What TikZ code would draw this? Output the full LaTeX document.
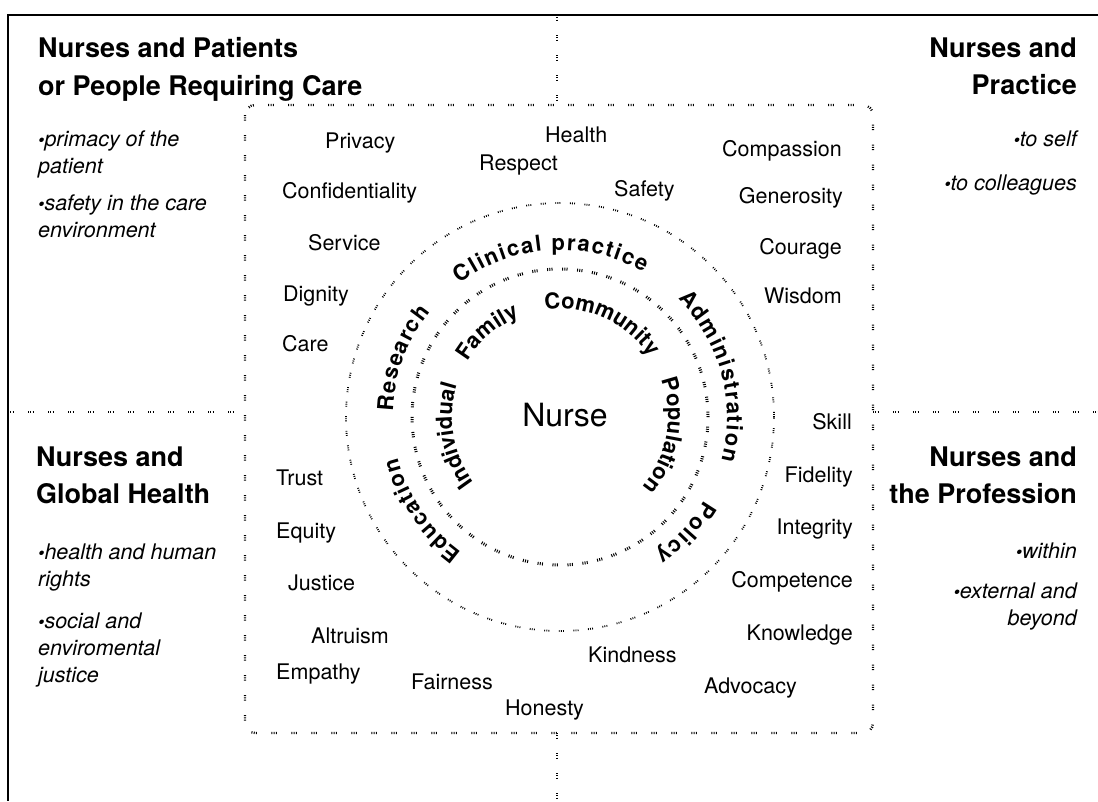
\documentclass[tikz,border=0pt]{standalone}
\usepackage{fontspec}
\setmainfont{TeX Gyre Heros}
\usetikzlibrary{decorations.text}
\usetikzlibrary{positioning}
\newcommand{\ringfont}{\bfseries\fontsize{22}{24}\selectfont}
\newcommand{\dotmark}{{\fontsize{18}{18}\selectfont\textbullet}}

\begin{document}
\begin{tikzpicture}[x=1pt, y=1pt,
  value/.style={font=\fontsize{21.5}{24}\selectfont, inner sep=0pt},
  corner/.style={font=\bfseries\fontsize{27}{30}\selectfont, inner sep=0pt},
  note/.style={font=\itshape\fontsize{21.5}{24}\selectfont, inner sep=0pt},
  groupdots/.style={line width=2.4pt, dash pattern=on 1pt off 1.3pt on 1pt off 1.3pt on 1pt off 14.4pt},
  innerdots/.style={line width=3pt, dash pattern=on 1pt off 1.2pt on 1pt off 1.2pt on 1pt off 9.6pt},
  outerdots/.style={line width=1.8pt, dash pattern=on 0.9pt off 1.2pt on 0.9pt off 1.2pt on 0.9pt off 9.5pt},
  ringtext/.style={decorate, decoration={text along path, text align=fit to path, text={|\ringfont|#1}}}]
    \useasboundingbox (0,0) rectangle (1098,-801);
    \def\rin{148}
    \def\rout{214}

    % frame and quarters
    \draw[line width=1.4pt] (1098,-15) -- (8,-15) -- (8,-801);
    \coordinate (boxnw) at (245,-105);
    \coordinate (boxse) at (873,-733);
    \draw[groupdots] (557,-15) -- (557,-105);
    \draw[groupdots] (557,-733) -- (557,-801);
    \draw[groupdots] (8,-412) -- (245,-412);
    \draw[groupdots] (873,-412) -- (1098,-412);
    \draw[groupdots, rounded corners=10pt] (boxnw) rectangle (boxse);

    % rings
    \coordinate (ctr) at (560,-417);
    \draw[innerdots] (ctr) circle[radius=\rin];
    \draw[outerdots] (ctr) circle[radius=\rout];
    \node[font=\fontsize{32}{36}\selectfont] (nurse) at (565,-415) {Nurse};

    \path[ringtext={Clinical practice}] ([shift={(127:167)}]ctr) arc[start angle=127, end angle=60, radius=167];
    \path[ringtext={Administration}] ([shift={(45:167)}]ctr) arc[start angle=45, end angle=-15, radius=167];
    \path[ringtext={Policy}] ([shift={(-30:167)}]ctr) arc[start angle=-30, end angle=-55, radius=167];
    \path[ringtext={Education}] ([shift={(234:167)}]ctr) arc[start angle=234, end angle=194, radius=167];
    \path[ringtext={Research}] ([shift={(178:167)}]ctr) arc[start angle=178, end angle=141, radius=167];

    \path[ringtext={Family}] ([shift={(149:108)}]ctr) arc[start angle=149, end angle=112, radius=108];
    \path[ringtext={Community}] ([shift={(98:108)}]ctr) arc[start angle=98, end angle=37, radius=108];
    \path[ringtext={Population}] ([shift={(20:108)}]ctr) arc[start angle=20, end angle=-39, radius=108];
    \path[ringtext={Individual}] ([shift={(217:108)}]ctr) arc[start angle=217, end angle=163, radius=108];

    % values
    \foreach \w/\x/\y in {Privacy/325/148, Confidentiality/282/198, Service/308/250,
      Dignity/283/301, Care/282/351, Trust/276/485, Equity/276/538, Justice/288/590,
      Altruism/311/643, Empathy/276/679, Fairness/411/689, Honesty/505/715,
      Kindness/588/662, Respect/479/170, Health/545/142, Safety/614/196} {
      \node[value, anchor=base west] (\w) at (\x,-\y) {\w};
    }
    \foreach \w/\x/\y in {Compassion/842/156, Generosity/843/203, Courage/842/254,
      Wisdom/842/303, Skill/852/429, Fidelity/853/482, Integrity/853/534,
      Competence/853/587, Knowledge/853/640, Advocacy/797/693} {
      \node[value, anchor=base east] (\w) at (\x,-\y) {\w};
    }

    % corners
    \node[corner, anchor=base west] (patients1) at (38,-57) {Nurses and Patients};
    \node[corner, anchor=base west] (patients2) at (38,-95) {or People Requiring Care};
    \node[corner, anchor=base east] (practice1) at (1077,-57) {Nurses and};
    \node[corner, anchor=base east] (practice2) at (1077,-94) {Practice};
    \node[corner, anchor=base west] (global1) at (36,-466) {Nurses and};
    \node[corner, anchor=base west] (global2) at (36,-503) {Global Health};
    \node[corner, anchor=base east] (profession1) at (1077,-466) {Nurses and};
    \node[corner, anchor=base east] (profession2) at (1077,-503) {the Profession};

    \node[note, anchor=base west] (pnote1) at (38,-146) {\dotmark primacy of the};
    \node[note, anchor=base west] (pnote2) at (38,-173) {patient};
    \node[note, anchor=base west] (pnote3) at (38,-210) {\dotmark safety in the care};
    \node[note, anchor=base west] (pnote4) at (38,-237) {environment};
    \node[note, anchor=base east] (rnote1) at (1077,-146) {\dotmark to self};
    \node[note, anchor=base east] (rnote2) at (1077,-190) {\dotmark to colleagues};
    \node[note, anchor=base west] (gnote1) at (38,-559) {\dotmark health and human};
    \node[note, anchor=base west] (gnote2) at (38,-586) {rights};
    \node[note, anchor=base west] (gnote3) at (38,-628) {\dotmark social and};
    \node[note, anchor=base west] (gnote4) at (38,-655) {enviromental};
    \node[note, anchor=base west] (gnote5) at (38,-682) {justice};
    \node[note, anchor=base east] (fnote1) at (1077,-558) {\dotmark within};
    \node[note, anchor=base east] (fnote2) at (1077,-598) {\dotmark external and};
    \node[note, anchor=base east] (fnote3) at (1077,-625) {beyond};
  \end{tikzpicture}
\end{document}
